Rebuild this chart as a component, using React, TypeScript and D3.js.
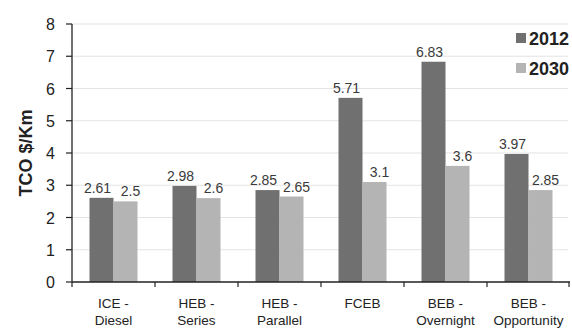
import React from "react";
import * as d3 from "d3";

const categories = [
  ["ICE -", "Diesel"],
  ["HEB -", "Series"],
  ["HEB -", "Parallel"],
  ["FCEB"],
  ["BEB -", "Overnight"],
  ["BEB -", "Opportunity"],
];
const series = ["2012", "2030"];
const values2012 = [2.61, 2.98, 2.85, 5.71, 6.83, 3.97];
const values2030 = [2.5, 2.6, 2.65, 3.1, 3.6, 2.85];
const labels2012 = ["2.61", "2.98", "2.85", "5.71", "6.83", "3.97"];
const labels2030 = ["2.5", "2.6", "2.65", "3.1", "3.6", "2.85"];
const yTicks = [0, 1, 2, 3, 4, 5, 6, 7, 8];

const W = 572;
const H = 329;
const left = 72;
const right = 570;
const top = 24;
const bottom = 282;
const colors = ["#707070", "#b4b4b4"];
const font = "'Liberation Sans', Arial, sans-serif";

export default function App() {
  const idx = categories.map((_, i) => String(i));
  const x = d3.scaleBand<string>().domain(idx).range([left, right]).paddingInner(0).paddingOuter(0);
  const y = d3.scaleLinear().domain([0, 8]).range([bottom, top]);
  const barW = 24;
  const data = [values2012, values2030];
  const labs = [labels2012, labels2030];
  const labOffset = [-4, 5];

  return (
    <svg width={W} height={H} style={{ position: "absolute", left: 0, top: 0, background: "#fff" }}>
      {/* gridlines */}
      {yTicks.filter((t) => t > 0).map((t) => (
        <line key={"g" + t} x1={left} x2={right - 2} y1={y(t)} y2={y(t)} stroke="#e4e4e4" strokeWidth={1.2} />
      ))}
      {/* bars */}
      {idx.map((c, i) => {
        const cx = (x(c) as number) + x.bandwidth() / 2;
        return series.map((s, si) => {
          const v = data[si][i];
          const bx = cx - barW + si * barW;
          return (
            <g key={c + s}>
              <rect x={bx} y={y(v)} width={barW} height={bottom - y(v)} fill={colors[si]} />
              <text
                x={bx + barW / 2 + labOffset[si]}
                y={y(v) - 5}
                textAnchor="middle"
                fontFamily={font}
                fontSize={14}
                fill="#3a3a3a"
              >
                {labs[si][i]}
              </text>
            </g>
          );
        });
      })}
      {/* y axis */}
      <line x1={left} x2={left} y1={top} y2={bottom} stroke="#222" strokeWidth={1.3} />
      {yTicks.map((t) => (
        <g key={"t" + t}>
          <line x1={left - 6} x2={left} y1={y(t)} y2={y(t)} stroke="#222" strokeWidth={1.2} />
          <text x={left - 17} y={y(t) + 6} textAnchor="end" fontFamily={font} fontSize={16} fill="#222">
            {t}
          </text>
        </g>
      ))}
      {/* x axis */}
      <line x1={left} x2={right} y1={bottom} y2={bottom} stroke="#222" strokeWidth={1.3} />
      {idx.map((c) => (
        <line key={"xt" + c} x1={x(c) as number} x2={x(c) as number} y1={bottom} y2={bottom + 5} stroke="#222" strokeWidth={1.2} />
      ))}
      <line x1={right - 1} x2={right - 1} y1={bottom} y2={bottom + 5} stroke="#222" strokeWidth={1.2} />
      {idx.map((c, i) => {
        const cx = (x(c) as number) + x.bandwidth() / 2;
        return (
          <text key={"xl" + c} textAnchor="middle" fontFamily={font} fontSize={13.5} fill="#222">
            {categories[i].map((line, li) => (
              <tspan key={li} x={cx} y={308 + li * 16.5}>
                {line}
              </tspan>
            ))}
          </text>
        );
      })}
      {/* y title */}
      <text
        transform={`translate(32,${(top + bottom) / 2}) rotate(-90)`}
        textAnchor="middle"
        fontFamily={font}
        fontSize={18}
        fontWeight="bold"
        fill="#222"
      >
        TCO $/Km
      </text>
      {/* legend */}
      {series.map((s, si) => (
        <g key={"lg" + s} transform={`translate(516,${38 + si * 30})`}>
          <rect x={0} y={-5} width={10} height={10} fill={colors[si]} />
          <text x={13} y={6.5} fontFamily={font} fontSize={18} fontWeight="bold" fill="#222">
            {s}
          </text>
        </g>
      ))}
    </svg>
  );
}
